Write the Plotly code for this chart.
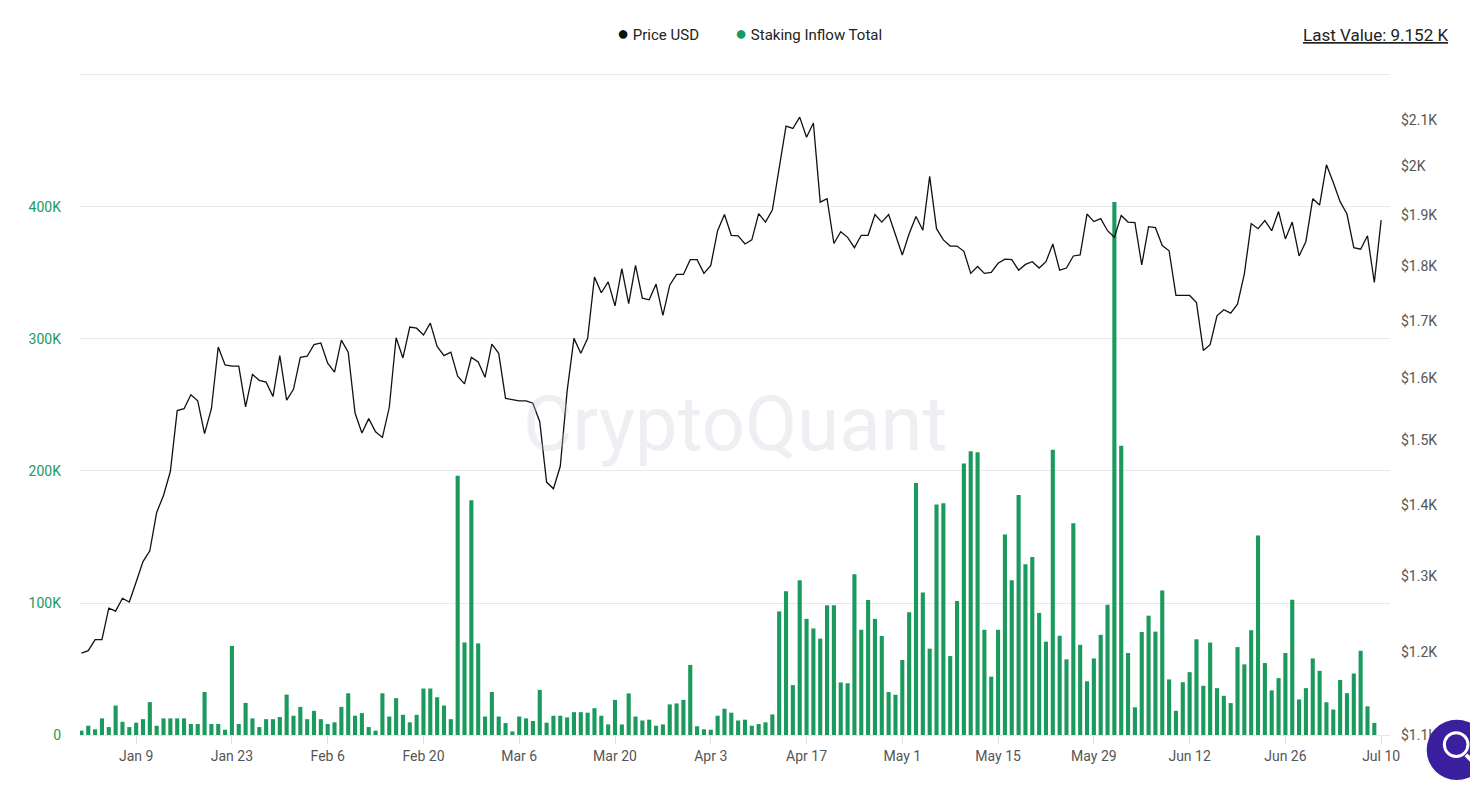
import plotly.graph_objects as go
import pandas as pd

start_date = "2023-01-01"
price_k = [1.199,1.202,1.216,1.216,1.257,1.253,1.270,1.265,1.292,1.320,1.335,1.390,1.415,1.451,1.547,1.550,1.573,1.563,1.510,1.550,
 1.654,1.623,1.621,1.621,1.553,1.607,1.597,1.594,1.570,1.639,1.564,1.582,1.636,1.638,1.658,1.661,1.626,1.611,1.666,1.645,
 1.543,1.511,1.534,1.513,1.504,1.552,1.670,1.635,1.689,1.687,1.675,1.696,1.655,1.639,1.645,1.604,1.591,1.636,1.628,1.602,
 1.659,1.643,1.567,1.565,1.563,1.563,1.559,1.529,1.435,1.425,1.459,1.579,1.669,1.643,1.669,1.780,1.751,1.771,1.727,1.796,
 1.731,1.802,1.741,1.738,1.767,1.710,1.765,1.785,1.785,1.813,1.813,1.787,1.802,1.869,1.901,1.860,1.859,1.843,1.851,1.903,
 1.886,1.910,1.994,2.086,2.081,2.106,2.062,2.093,1.926,1.933,1.844,1.867,1.856,1.836,1.860,1.860,1.901,1.886,1.901,1.863,
 1.822,1.863,1.897,1.870,1.979,1.873,1.851,1.839,1.839,1.829,1.787,1.800,1.787,1.789,1.806,1.814,1.813,1.793,1.804,1.809,
 1.797,1.809,1.843,1.793,1.797,1.820,1.822,1.902,1.887,1.893,1.869,1.856,1.899,1.886,1.885,1.803,1.877,1.875,1.840,1.830,
 1.746,1.746,1.746,1.733,1.648,1.658,1.709,1.720,1.714,1.730,1.786,1.883,1.873,1.889,1.869,1.907,1.853,1.886,1.820,1.848,
 1.933,1.920,2.003,1.966,1.927,1.902,1.836,1.833,1.859,1.770,1.890]

staking_k = [3.3,7.0,4.3,12.6,6.0,22.3,10.0,6.0,9.3,12.0,24.9,7.0,12.6,12.6,12.6,12.6,8.3,8.3,32.6,8.3,
 8.3,4.0,67.5,8.3,24.3,12.6,6.0,12.0,12.0,13.6,30.6,14.6,21.3,12.0,18.3,12.0,8.3,9.6,21.3,31.6,
 14.6,16.6,6.0,3.3,31.6,14.0,27.9,15.3,9.6,15.3,35.2,35.2,28.6,22.3,12.0,196.4,70.1,177.8,69.4,14.0,
 32.6,14.0,9.0,2.7,14.0,12.6,10.6,34.2,9.3,14.6,14.6,13.3,17.3,17.3,16.9,20.3,14.6,8.0,26.6,8.0,
 31.5,14.0,11.0,11.6,7.0,8.0,23.2,23.9,26.6,53.1,6.6,4.3,4.0,14.6,19.9,16.9,11.0,11.6,7.0,8.3,
 9.6,15.6,93.6,108.9,37.8,117.2,88.0,80.7,73.0,98.3,98.3,39.8,39.2,121.8,79.7,102.3,88.0,75.0,32.5,30.5,
 56.8,93.0,190.9,107.9,65.4,174.6,175.6,59.8,101.5,205.6,214.9,214.2,79.7,44.2,79.7,151.8,117.3,181.8,129.4,134.9,
 92.5,70.7,216.0,75.2,57.3,160.4,68.3,40.7,58.0,75.9,98.7,403.7,219.1,62.1,21.0,78.0,90.4,78.3,109.4,42.1,
 18.3,40.0,47.6,72.5,37.3,70.0,35.5,29.7,24.2,66.6,53.5,79.4,151.1,54.5,33.8,43.1,62.1,102.5,26.9,35.5,
 58.0,48.6,24.8,19.3,41.7,31.7,46.6,63.8,21.7,9.152]

price_ticks = [1100,1200,1300,1400,1500,1600,1700,1800,1900,2000,2100]
price_ticktext = ["$1.1K","$1.2K","$1.3K","$1.4K","$1.5K","$1.6K","$1.7K","$1.8K","$1.9K","$2K","$2.1K"]
left_ticks = [0,100000,200000,300000,400000,500000]
left_ticktext = ["0","100K","200K","300K","400K",""]

price_dates = pd.date_range(start_date, periods=len(price_k), freq="D")
stake_dates = pd.date_range(start_date, periods=len(staking_k), freq="D")
GREEN = "#1a9a5c"

fig = go.Figure()
fig.add_trace(go.Bar(x=stake_dates, y=[v*1000 for v in staking_k], name="Staking Inflow Total",
                     marker=dict(color=GREEN, line=dict(width=0)), yaxis="y"))
fig.add_trace(go.Scatter(x=price_dates, y=[v*1000 for v in price_k], name="Price USD", mode="lines",
                         line=dict(color="#111111", width=1.3), yaxis="y2"))

fig.update_layout(
    width=1470, height=786, paper_bgcolor="white", plot_bgcolor="white",
    margin=dict(l=72, r=88, t=65, b=59, autoexpand=False),
    font=dict(family="Roboto, Arial, sans-serif", size=14, color="#555"),
    bargap=0.4, showlegend=False,
    xaxis=dict(type="date", range=["2022-12-31 19:00", "2023-07-11 07:00"], automargin=False,
               tickvals=pd.date_range("2023-01-09", "2023-07-10", freq="14D"), tickformat="%b %-d",
               ticks="outside", ticklen=8, tickcolor="#e0e0e6", showgrid=False, showline=True,
               linecolor="#e6e6ee", tickfont=dict(size=14, color="#555")),
    yaxis=dict(range=[0, 501500], tickvals=left_ticks, ticktext=left_ticktext, showgrid=True, automargin=False,
               gridcolor="#e8e8ee", zeroline=False, tickfont=dict(size=14, color=GREEN), ticklabelstandoff=18),
    yaxis2=dict(type="log", overlaying="y", side="right", range=[3.0414, 3.3436], automargin=False,
                tickvals=price_ticks, ticktext=price_ticktext, showgrid=False,
                tickfont=dict(size=14, color="#555"), ticklabelstandoff=10),
    shapes=[dict(type="circle", xref="paper", yref="paper", x0=1.028, x1=1.074, y0=-0.068, y1=0.023,
                 fillcolor="#3a1f9e", line=dict(width=0)),
            dict(type="circle", xref="paper", yref="paper", x0=1.0415, x1=1.0595, y0=-0.0325, y1=0.0035,
                 line=dict(color="white", width=3)),
            dict(type="line", xref="paper", yref="paper", x0=1.058, x1=1.066, y0=-0.030, y1=-0.046,
                 line=dict(color="white", width=4))],
    annotations=[dict(text="CryptoQuant", xref="paper", yref="paper", x=0.5, y=0.47, showarrow=False,
                      font=dict(size=76, color="rgba(200,200,215,0.3)", family="Roboto")),
                 dict(text="<span style='color:#111;font-size:20px'>●</span> Price USD", xref="paper", yref="paper",
                      x=(615-80)/1310, y=1.04, xanchor="left", yanchor="bottom",
                      showarrow=False, font=dict(size=15, color="#222")),
                 dict(text="<span style='color:%s;font-size:20px'>●</span> Staking Inflow Total" % GREEN,
                      xref="paper", yref="paper", x=(733-80)/1310, y=1.04, xanchor="left", yanchor="bottom",
                      showarrow=False, font=dict(size=15, color="#222")),
                 dict(text="<u>Last Value: 9.152 K</u>", xref="paper", yref="paper", x=1.046, y=1.04,
                      xanchor="right", yanchor="bottom", showarrow=False, font=dict(size=17, color="#222"))],
)
fig.write_html("out.html")
